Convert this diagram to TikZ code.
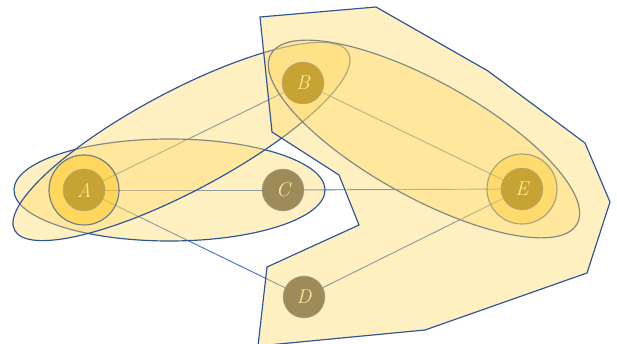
\documentclass[tikz,border=0pt]{standalone}
\usetikzlibrary{backgrounds}
\definecolor{setline}{HTML}{2F5597}
\definecolor{edgeblue}{HTML}{4472C4}
\definecolor{setfill}{HTML}{FFD966}
\definecolor{ringfill}{HTML}{FFC000}
\definecolor{goldnode}{HTML}{C6A332}
\definecolor{olivenode}{HTML}{9E8B5A}
\definecolor{labelcol}{HTML}{FFE699}
\begin{document}
\begin{tikzpicture}[x=0.03cm,y=-0.03cm,
  vertex/.style={circle,minimum size=1.26cm,inner sep=0pt,draw=gray!70,line width=0.3pt,
    text=labelcol,font=\fontsize{17}{19}\selectfont\itshape},
  core/.style={vertex,fill=goldnode},
  plain/.style={vertex,fill=olivenode},
  edge/.style={edgeblue,line width=0.8pt},
  blob/.style={fill=setfill,fill opacity=0.4,draw=setline,line width=1pt},
  ring/.style={fill=ringfill,fill opacity=0.4,draw=setline,draw opacity=0.7,line width=1pt}]
  \useasboundingbox (0,0) rectangle (617,344);
  % vertices of the hypergraph
  \node[core] (A) at (84,190) {A};
  \node[core] (B) at (303,83) {B};
  \node[plain] (C) at (283,190) {C};
  \node[plain] (D) at (304,297) {D};
  \node[core] (E) at (522,189) {E};
  \begin{pgfonlayer}{background}
    % plain edges
    \draw[edge] (A) -- (B);
    \draw[edge] (A) -- (C);
    \draw[edge] (A) -- (D);
    \draw[edge] (C) -- (E);
    \draw[edge] (B) -- (E);
    \draw[edge] (E) -- (D);
    % hyperedges as ellipses
    \draw[blob] (169.5,190) ellipse [x radius=4.665cm, y radius=1.53cm];
    \draw[blob, rotate around={28:(181.5,141.5)}] (181.5,141.5) ellipse [x radius=5.67cm, y radius=1.5cm];
    \draw[blob, rotate around={-29:(424,139)}] (424,139) ellipse [x radius=5.25cm, y radius=1.74cm];
    % loops on A and E
    \draw[ring] (A) circle (1.05cm);
    \draw[ring] (E) circle (1.05cm);
    % large hyperedge
    \draw[blob] (260,17) -- (376,7) -- (488,71) -- (585,143) -- (610,202) -- (587,273)
      -- (425,330) -- (258,346) -- (267,267) -- (359,225) -- (339,175) -- (272,132) -- cycle;
  \end{pgfonlayer}
\end{tikzpicture}
\end{document}
